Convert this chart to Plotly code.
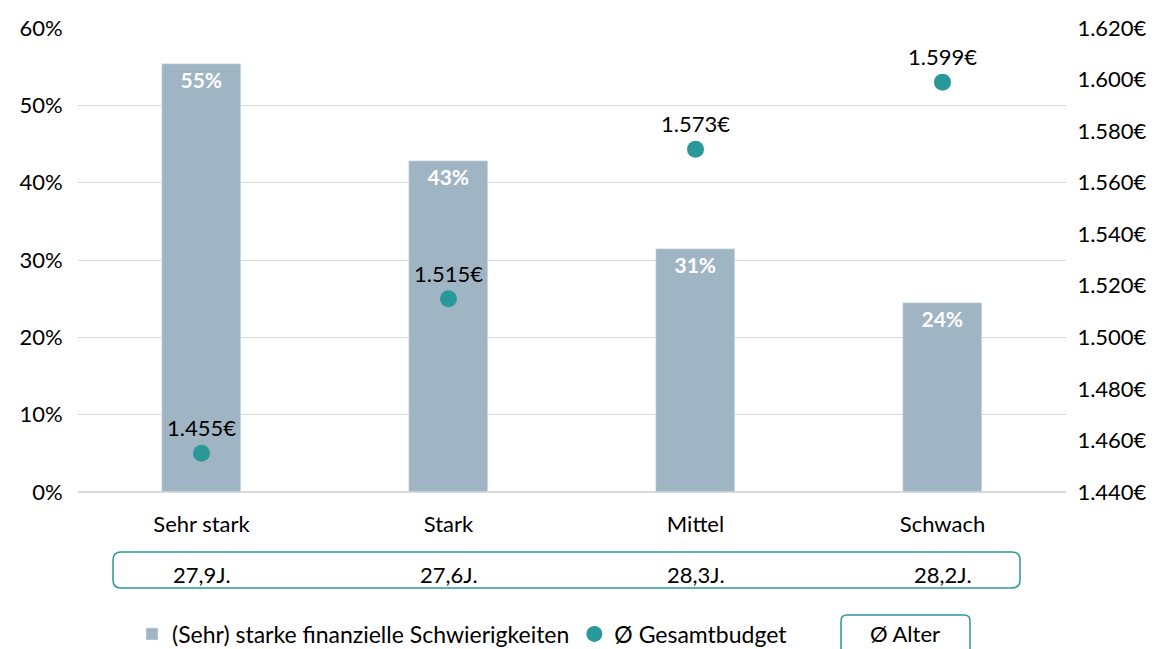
import plotly.graph_objects as go

# data
categories = ["Sehr stark", "Stark", "Mittel", "Schwach"]
share_difficulties = [0.554, 0.428, 0.314, 0.244]
share_labels = ["55%", "43%", "31%", "24%"]
budget = [1455, 1515, 1573, 1599]
budget_labels = ["1.455€", "1.515€", "1.573€", "1.599€"]
age_labels = ["27,9J.", "27,6J.", "28,3J.", "28,2J."]
budget_ticks = list(range(1440, 1621, 20))
budget_ticktext = ["1.440€", "1.460€", "1.480€", "1.500€", "1.520€",
                   "1.540€", "1.560€", "1.580€", "1.600€", "1.620€"]

BAR_COLOR = "#a0b5c3"
TEAL = "#2a9898"
FONT = "Lato, 'Open Sans', sans-serif"
FS = 22

# page has an 8px body margin, so the figure is a bit smaller
OFF = 8
W, H = 1161 - OFF, 649 - OFF
L, T = 78 - OFF, 28 - OFF
R, B = W - (1066 - OFF), H - (492 - OFF)
PW, PH = W - L - R, H - T - B


def px_x(x):
    # page pixel -> paper
    return (x - OFF - L) / PW


def px_y(y):
    return (T + PH - (y - OFF)) / PH


def rounded_box(x0, y0, x1, y1, r=8):
    rx, ry = r / PW, r / PH
    a, b, c, d = px_x(x0), px_y(y1), px_x(x1), px_y(y0)
    return (f"M {a+rx},{b} L {c-rx},{b} Q {c},{b} {c},{b+ry} "
            f"L {c},{d-ry} Q {c},{d} {c-rx},{d} L {a+rx},{d} "
            f"Q {a},{d} {a},{d-ry} L {a},{b+ry} Q {a},{b} {a+rx},{b} Z")


fig = go.Figure()
fig.add_trace(go.Bar(
    x=categories, y=share_difficulties, text=share_labels,
    textposition="inside", insidetextanchor="end",
    textfont=dict(color="white", size=21, family=FONT, weight="bold"),
    marker_color=BAR_COLOR, width=0.316,
    name="(Sehr) starke finanzielle Schwierigkeiten",
))
fig.add_trace(go.Scatter(
    x=categories, y=budget, yaxis="y2", mode="markers+text",
    text=budget_labels, textposition="top center",
    textfont=dict(color="black", size=FS, family=FONT),
    marker=dict(color=TEAL, size=17),
    name="Ø Gesamtbudget",
))

for cat, lab in zip(categories, age_labels):
    fig.add_annotation(x=cat, xref="x", y=px_y(574), yref="paper",
                       xanchor="center", yanchor="middle",
                       text=lab, showarrow=False,
                       font=dict(size=FS, color="black", family=FONT))

fig.add_shape(type="path", xref="paper", yref="paper",
              path=rounded_box(113, 552, 1020, 588),
              line=dict(color=TEAL, width=1.5))
fig.add_shape(type="path", xref="paper", yref="paper",
              path=rounded_box(841, 615, 970, 662, r=6),
              line=dict(color=TEAL, width=1.5))
fig.add_annotation(x=px_x(905), y=px_y(634), xref="paper", yref="paper",
                   xanchor="center", yanchor="middle",
                   text="Ø Alter", showarrow=False,
                   font=dict(size=FS, color="black", family=FONT))

fig.update_layout(
    width=W, height=H,
    margin=dict(l=L, r=R, t=T, b=B, autoexpand=False),
    plot_bgcolor="white", paper_bgcolor="white",
    font=dict(family=FONT, size=FS, color="black"),
    showlegend=True,
    legend=dict(orientation="h", x=px_x(132), y=px_y(634),
                xanchor="left", yanchor="middle",
                font=dict(size=23), itemwidth=30, traceorder="normal"),
    xaxis=dict(showline=False, ticks="outside", ticklen=13,
               tickcolor="rgba(0,0,0,0)", tickfont=dict(size=FS)),
    yaxis=dict(range=[0, 0.6], dtick=0.1, tickformat=".0%",
               gridcolor="#d9d9d9", gridwidth=1, zeroline=True,
               zerolinecolor="#d9d9d9", tickfont=dict(size=FS),
               ticks="outside", ticklen=10, tickcolor="rgba(0,0,0,0)"),
    yaxis2=dict(range=[1440, 1620], overlaying="y", side="right",
                showgrid=False, zeroline=False,
                tickvals=budget_ticks, ticktext=budget_ticktext,
                tickfont=dict(size=FS),
                ticks="outside", ticklen=6, tickcolor="rgba(0,0,0,0)"),
    bargap=0,
)

fig.write_html("out.html")
